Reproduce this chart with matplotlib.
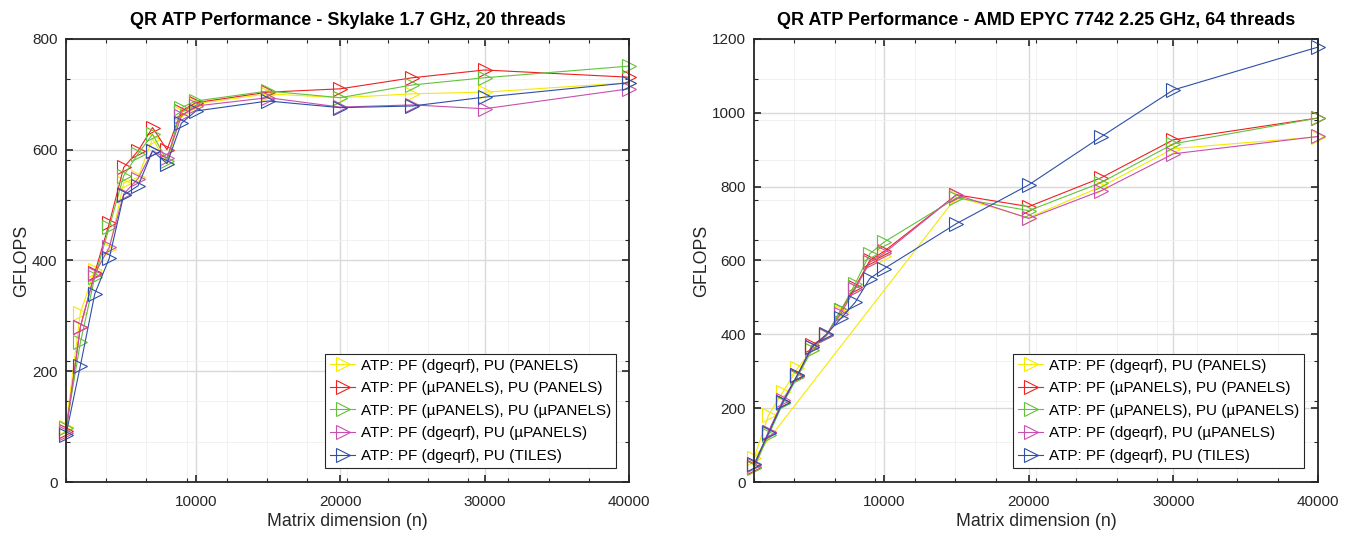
import numpy as np
import matplotlib
matplotlib.use("Agg")
import matplotlib.pyplot as plt
from matplotlib.ticker import FixedLocator

plt.rcParams['font.family'] = ['Liberation Sans', 'DejaVu Sans']

# matrix sizes
n = [1000, 2000, 3000, 4000, 5000, 6000, 7000, 8000, 9000, 10000,
     15000, 20000, 25000, 30000, 40000]

labels = ["ATP: PF (dgeqrf), PU (PANELS)",
          "ATP: PF (\u00b5PANELS), PU (PANELS)",
          "ATP: PF (\u00b5PANELS), PU (\u00b5PANELS)",
          "ATP: PF (dgeqrf), PU (\u00b5PANELS)",
          "ATP: PF (dgeqrf), PU (TILES)"]
colors = ['#f5ea00', '#ee2020', '#62c23c', '#c94fae', '#2e4fa8']

# Skylake, 20 threads (GFLOPS)
sky_yellow = [100, 306, 383, 420, 540, 550, 620, 575, 667, 683, 701, 694, 701, 704, 721]
sky_red = [92, 280, 378, 467, 568, 598, 640, 600, 670, 685, 704, 710, 730, 744, 731]
sky_green = [97, 252, 370, 460, 553, 593, 628, 580, 676, 688, 706, 694, 717, 730, 751]
sky_magenta = [88, 280, 376, 424, 520, 548, 598, 585, 661, 679, 694, 677, 681, 674, 710]
sky_blue = [85, 210, 340, 404, 518, 535, 598, 575, 648, 670, 688, 676, 679, 695, 721]

# AMD EPYC 7742, 64 threads (GFLOPS)
amd_yellow = [65, 181, 244, 308, 357, 397, 460, 524, 595, 612, 772, 716, 800, 903, 935]
amd_red = [40, 136, 217, 286, 370, 397, 465, 528, 600, 625, 778, 746, 824, 927, 986]
amd_green = [38, 127, 213, 285, 357, 397, 465, 537, 618, 650, 770, 735, 811, 916, 986]
amd_magenta = [45, 136, 222, 290, 365, 397, 456, 524, 595, 620, 778, 714, 789, 889, 936]
amd_blue = [48, 132, 217, 290, 365, 400, 443, 487, 551, 578, 700, 805, 935, 1062, 1178]
# the yellow AMD run was recorded 10000 -> 1000, then 15000 -> 40000
amd_yellow_order = [9, 8, 7, 6, 5, 4, 3, 2, 1, 0, 10, 11, 12, 13, 14]

sky = [sky_yellow, sky_red, sky_green, sky_magenta, sky_blue]
amd = [amd_yellow, amd_red, amd_green, amd_magenta, amd_blue]


def style_axes(ax, ymax, ystep):
    ax.set_xlim(1000, 40000)
    ax.set_ylim(0, ymax)
    ax.set_xticks([10000, 20000, 30000, 40000])
    ax.set_yticks(np.arange(0, ymax + 1, ystep))
    ax.xaxis.set_minor_locator(FixedLocator(np.linspace(1000, 40000, 15)))
    ax.yaxis.set_minor_locator(FixedLocator(np.linspace(0, ymax, 12)))
    ax.grid(which='major', color='#d9d9d9', linewidth=1.0)
    ax.grid(which='minor', color='#f0f0f0', linewidth=0.6)
    ax.set_axisbelow(True)
    ax.tick_params(which='both', direction='in', top=True, right=True,
                   labelsize=11, colors='#262626', labelcolor='#262626')
    ax.tick_params(which='major', length=5, width=1.2)
    ax.tick_params(which='minor', length=3, width=0.8)
    ax.tick_params(axis='x', which='major', pad=9)
    ax.tick_params(axis='y', which='major', pad=6)
    for s in ax.spines.values():
        s.set_linewidth(1.3)
        s.set_color('#262626')
    ax.set_xlabel("Matrix dimension (n)", fontsize=12.8, color='#262626', labelpad=3)
    ax.set_ylabel("GFLOPS", fontsize=12.8, color='#262626', labelpad=1.5)


fig = plt.figure(figsize=(13.54, 5.37), dpi=100)
ax1 = fig.add_axes([0.0487, 0.1024, 0.4158, 0.825])
ax2 = fig.add_axes([0.5569, 0.1024, 0.4165, 0.825])

for vals, c, lab in zip(sky, colors, labels):
    ax1.plot(n, vals, color=c, marker='>', markersize=9.5, mfc='none',
             mew=0.8, linewidth=0.8, label=lab, clip_on=False)

for i, (vals, c, lab) in enumerate(zip(amd, colors, labels)):
    if i == 0:
        xs = [n[k] for k in amd_yellow_order]
        ys = [vals[k] for k in amd_yellow_order]
    else:
        xs, ys = n, vals
    ax2.plot(xs, ys, color=c, marker='>', markersize=9.5, mfc='none',
             mew=0.8, linewidth=0.8, label=lab, clip_on=False)

style_axes(ax1, 800, 200)
style_axes(ax2, 1200, 200)
ax1.set_title("QR ATP Performance - Skylake 1.7 GHz, 20 threads",
              fontsize=13, fontweight='bold', pad=10)
ax2.set_title("QR ATP Performance - AMD EPYC 7742 2.25 GHz, 64 threads",
              fontsize=13, fontweight='bold', pad=10)

for ax, x1 in [(ax1, 0.977), (ax2, 0.975)]:
    leg = ax.legend(loc='lower right', bbox_to_anchor=(x1, 0.032),
                    borderaxespad=0, fontsize=11, fancybox=False,
                    framealpha=1, edgecolor='#262626', handlelength=1.65,
                    handletextpad=0.35, labelspacing=0.56, borderpad=0.32)
    leg.get_frame().set_linewidth(0.8)

fig.savefig("out.png", dpi=100)
